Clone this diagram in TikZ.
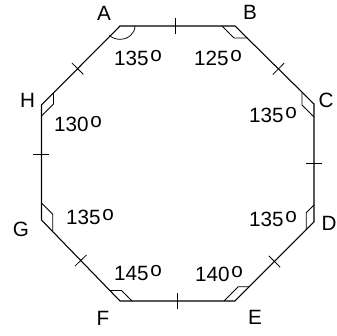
\documentclass[tikz,border=0pt]{standalone}
\usepackage{fontspec}
\setmainfont{Liberation Sans}
\usetikzlibrary{calc}

\newcommand{\dg}[1]{#1\kern1.2pt\raisebox{0.22em}{o}}

\begin{document}
\begin{tikzpicture}[
  x=0.75pt, y=0.75pt,
  every node/.style={font=\fontsize{15.5}{18}\selectfont, inner sep=0pt},
  side/.style={draw=black, line width=0.8pt},
  tick/.style={draw=black, line width=0.6pt},
  angmark/.style={draw=black, line width=0.55pt}
]
\useasboundingbox (0,0) rectangle (337,336);

% corners of the octagon
\coordinate (A) at (120,310);
\coordinate (B) at (235,310);
\coordinate (C) at (314,232);
\coordinate (D) at (314,114);
\coordinate (E) at (235,35);
\coordinate (F) at (120,35);
\coordinate (G) at (41.5,116);
\coordinate (H) at (41.5,231);

\draw[side] (A) -- (B) -- (C) -- (D) -- (E) -- (F) -- (G) -- (H) -- cycle;

% equal sides
\draw[tick] ($(A)!0.48!(B)!6pt!90:(B)$) -- ($(A)!0.48!(B)!6pt!-90:(B)$);
\draw[tick] ($(B)!0.55!(C)!6pt!90:(C)$) -- ($(B)!0.55!(C)!6pt!-90:(C)$);
\draw[tick] ($(C)!0.5!(D)!6pt!90:(D)$) -- ($(C)!0.5!(D)!6pt!-90:(D)$);
\draw[tick] ($(D)!0.5!(E)!6pt!90:(E)$) -- ($(D)!0.5!(E)!6pt!-90:(E)$);
\draw[tick] ($(E)!0.5!(F)!6pt!90:(F)$) -- ($(E)!0.5!(F)!6pt!-90:(F)$);
\draw[tick] ($(F)!0.5!(G)!6pt!90:(G)$) -- ($(F)!0.5!(G)!6pt!-90:(G)$);
\draw[tick] ($(G)!0.57!(H)!6pt!90:(H)$) -- ($(G)!0.57!(H)!6pt!-90:(H)$);
\draw[tick] ($(H)!0.46!(A)!6pt!90:(A)$) -- ($(H)!0.46!(A)!6pt!-90:(A)$);

% angle marks
\draw[angmark] ([shift={(0:15)}]A) arc[start angle=0, end angle=-135, x radius=11.25pt, y radius=10pt];
\draw[angmark] ([shift={(180:13)}]B) -- ++(-45:17) -- ([shift={(-45:17)}]B);
\draw[angmark] ([shift={(135:17)}]C) -- ++(-90:13) -- ([shift={(-90:13)}]C);
\draw[angmark] ([shift={(90:17)}]D) -- ++(-135:11) -- ([shift={(-135:11)}]D);
\draw[angmark] ([shift={(180:11)}]E) -- ++(45:20) -- ([shift={(45:20)}]E);
\draw[angmark] ([shift={(0:12)}]F) -- ++(135:15) -- ([shift={(135:15)}]F);
\draw[angmark] ([shift={(90:17)}]G) -- ++(-45:16) -- ([shift={(-45:16)}]G);
\draw[angmark] ([shift={(45:17)}]H) -- ++(-90:11) -- ([shift={(-90:11)}]H);

% corner names
\node (lA) at (104,323) {A};
\node (lB) at (250,324) {B};
\node (lC) at (326,236) {C};
\node (lD) at (329,113) {D};
\node (lE) at (255,19) {E};
\node (lF) at (103,18) {F};
\node (lG) at (21,107) {G};
\node (lH) at (27.5,236) {H};

% angle sizes
\node (aA) at (138,278) {\dg{135}};
\node (aB) at (218,278) {\dg{125}};
\node (aC) at (273,221) {\dg{135}};
\node (aD) at (273,117) {\dg{135}};
\node (aE) at (219,62) {\dg{140}};
\node (aF) at (138,63) {\dg{145}};
\node (aG) at (90,119) {\dg{135}};
\node (aH) at (78,212) {\dg{130}};

\end{tikzpicture}
\end{document}
